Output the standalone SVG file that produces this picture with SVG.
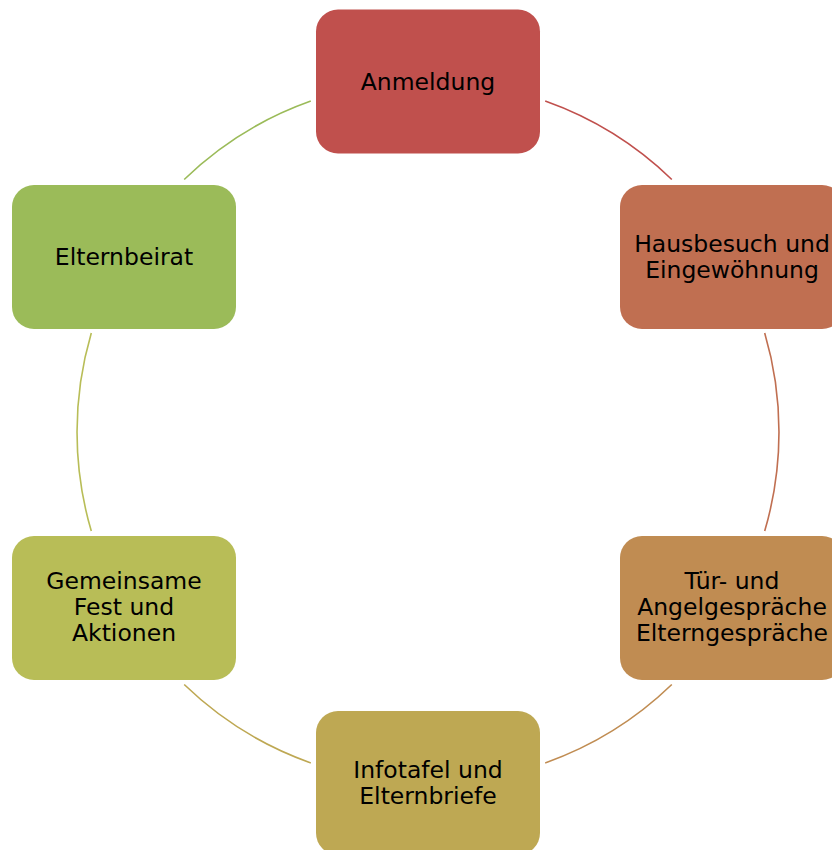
<svg xmlns="http://www.w3.org/2000/svg" width="832" height="850" viewBox="0 0 832 850">
<style>
.node rect{stroke:none}
.node text{font-family:"DejaVu Sans",Verdana,sans-serif;font-size:23.5px;fill:#000;text-anchor:middle}
.arc{fill:none;stroke-width:1.6}
</style>
<rect width="832" height="850" fill="#fff"/>
<g id="connectors">
<path class="arc" stroke="#C0504D" d="M545.2,101.1 A351,351 0 0 1 671.8,179.5"/>
<path class="arc" stroke="#C06F51" d="M764.7,332.9 A351,351 0 0 1 764.7,531.1"/>
<path class="arc" stroke="#C08C52" d="M671.8,684.5 A351,351 0 0 1 545.2,762.9"/>
<path class="arc" stroke="#BEA853" d="M310.8,762.9 A351,351 0 0 1 184.2,684.5"/>
<path class="arc" stroke="#B8BD57" d="M91.3,531.1 A351,351 0 0 1 91.3,332.9"/>
<path class="arc" stroke="#9BBB59" d="M184.2,179.5 A351,351 0 0 1 310.8,101.1"/>
</g>
<g id="anmeldung" class="node">
<rect x="316" y="9.5" width="224" height="144" rx="22" fill="#C0504D"/>
<text x="428" y="90">Anmeldung</text>
</g>
<g id="hausbesuch" class="node">
<rect x="620" y="185" width="224" height="144" rx="22" fill="#C06F51"/>
<text x="732" y="252">Hausbesuch und</text>
<text x="732" y="278">Eingewöhnung</text>
</g>
<g id="tuer" class="node">
<rect x="620" y="536" width="224" height="144" rx="22" fill="#C08C52"/>
<text x="732" y="589">Tür- und</text>
<text x="732" y="615">Angelgespräche</text>
<text x="732" y="641">Elterngespräche</text>
</g>
<g id="infotafel" class="node">
<rect x="316" y="711" width="224" height="144" rx="22" fill="#BEA853"/>
<text x="428" y="778">Infotafel und</text>
<text x="428" y="804">Elternbriefe</text>
</g>
<g id="gemeinsame" class="node">
<rect x="12" y="536" width="224" height="144" rx="22" fill="#B8BD57"/>
<text x="124" y="589">Gemeinsame</text>
<text x="124" y="615">Fest und</text>
<text x="124" y="641">Aktionen</text>
</g>
<g id="elternbeirat" class="node">
<rect x="12" y="185" width="224" height="144" rx="22" fill="#9BBB59"/>
<text x="124" y="265">Elternbeirat</text>
</g>
</svg>
